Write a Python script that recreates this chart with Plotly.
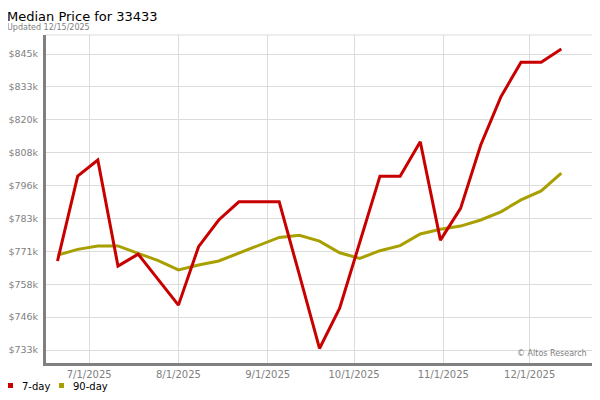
import plotly.graph_objects as go
import pandas as pd

# weekly points (Fridays)
dates = pd.date_range("2025-06-20", "2025-12-12", freq="7D")

price_7day = [766.7, 798.8, 804.9, 764.8, 769.3, 759.5, 750.0, 772.1, 782.2, 789.1,
              789.1, 789.1, 761.5, 733.6, 748.8, 773.9, 798.8, 798.8, 811.8, 774.6,
              786.6, 810.6, 828.8, 841.9, 841.9, 846.9]
price_90day = [768.9, 771.1, 772.4, 772.4, 769.6, 766.8, 763.3, 765.2, 766.7, 769.6,
               772.6, 775.6, 776.4, 774.2, 769.8, 767.7, 770.6, 772.5, 776.9, 778.7,
               779.9, 782.2, 785.3, 789.8, 793.2, 799.9]

y_ticks = [733 + i * 112 / 9 for i in range(10)]
y_labels = ["$733k", "$746k", "$758k", "$771k", "$783k", "$796k",
            "$808k", "$820k", "$833k", "$845k"]
x_ticks = ["2025-07-01", "2025-08-01", "2025-09-01", "2025-10-01", "2025-11-01", "2025-12-01"]

RED = "#c80000"
OLIVE = "#a8a000"

# the page body has an 8px margin, so work in screen pixels and subtract it
OFF = 8
L, R, T, B = 46 - OFF, 593 - OFF, 35 - OFF, 363 - OFF
W, H = R - L, B - T


def px_x(p):
    return (p - OFF - L) / W


def px_y(p):
    return (B - (p - OFF)) / H


fig = go.Figure()
fig.add_trace(go.Scatter(x=dates, y=price_90day, mode="lines", name="90-day",
                         line=dict(color=OLIVE, width=3)))
fig.add_trace(go.Scatter(x=dates, y=price_7day, mode="lines", name="7-day",
                         line=dict(color=RED, width=3)))

fig.update_layout(
    width=600, height=400,
    margin=dict(l=L, r=600 - R, t=T, b=400 - B),
    paper_bgcolor="white", plot_bgcolor="white",
    font=dict(family="DejaVu Sans", size=10, color="#808080"),
    showlegend=False,
)

fig.update_xaxes(
    range=["2025-06-16", "2025-12-23"],
    tickvals=x_ticks, tickformat="%-m/%-d/%Y",
    showgrid=True, gridcolor="#dcdcdc", gridwidth=1,
    showline=True, linecolor="#808080", linewidth=3,
    ticks="", ticklabelstandoff=0, zeroline=False, automargin=False,
)
fig.update_yaxes(
    range=[728.1, 852.2],
    tickvals=y_ticks, ticktext=y_labels, tickfont=dict(size=9.5),
    showgrid=True, gridcolor="#dcdcdc", gridwidth=1,
    showline=True, linecolor="#808080", linewidth=3,
    ticks="", ticklabelstandoff=3, zeroline=False, automargin=False,
)

# light top / right frame
fig.add_shape(type="line", xref="paper", yref="paper", x0=0, x1=1, y0=1, y1=1,
              line=dict(color="#dcdcdc", width=1))
fig.add_shape(type="line", xref="paper", yref="paper", x0=1, x1=1, y0=0, y1=1,
              line=dict(color="#dcdcdc", width=1))

fig.add_annotation(text="Median Price for 33433", xref="paper", yref="paper",
                   x=px_x(6), y=px_y(16), xanchor="left", yanchor="middle",
                   showarrow=False, borderpad=0, font=dict(size=13, color="#000000"))
fig.add_annotation(text="Updated 12/15/2025", xref="paper", yref="paper",
                   x=px_x(6), y=px_y(27.5), xanchor="left", yanchor="middle",
                   showarrow=False, borderpad=0, font=dict(size=8, color="#808080"))
fig.add_annotation(text="© Altos Research", xref="paper", yref="paper",
                   x=px_x(589), y=px_y(353), xanchor="right", yanchor="middle",
                   showarrow=False, font=dict(size=8, color="#808080"))

# legend: coloured square + label
for name, col, sx in [("7-day", RED, 10.5), ("90-day", OLIVE, 61.5)]:
    fig.add_shape(type="rect", xref="paper", yref="paper",
                  x0=px_x(sx - 2.5), x1=px_x(sx + 2.5),
                  y0=px_y(388), y1=px_y(383),
                  fillcolor=col, line=dict(width=0))
    fig.add_annotation(text=name, xref="paper", yref="paper",
                       x=px_x(sx + 9), y=px_y(386), xanchor="left", yanchor="middle",
                       showarrow=False, font=dict(size=10, color="#000000"))

fig.write_html("out.html")
